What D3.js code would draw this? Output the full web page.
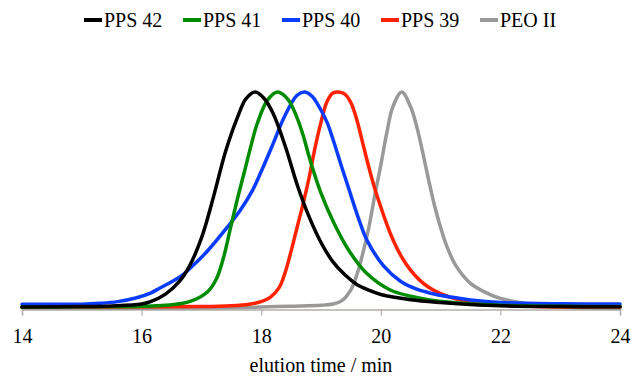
<!DOCTYPE html>
<html>
<head>
<meta charset="utf-8">
<script src="https://cdn.jsdelivr.net/npm/d3@7"></script>
<style>
  html, body { margin: 0; padding: 0; background: #fff; }
  svg { display: block; }
</style>
</head>
<body>
<svg id="chart" width="632" height="377"></svg>
<script>
// Normalised detector response vs elution time (min) for each sample
const seriesNames = ["PPS 42", "PPS 41", "PPS 40", "PPS 39", "PEO II"];
const seriesColors = ["#000000", "#008c00", "#0a3cff", "#ff2200", "#999999"];

const pps42 = [
  [14, 0.0], [15, 0.002], [15.5, 0.005], [16.0, 0.014], [16.15, 0.025], [16.4, 0.06],
  [16.65, 0.125], [16.8, 0.19], [17.0, 0.32], [17.2, 0.51], [17.4, 0.72], [17.6, 0.88],
  [17.75, 0.97], [17.9, 1.0], [18.05, 0.97], [18.2, 0.90], [18.4, 0.75], [18.6, 0.57],
  [18.8, 0.42], [19.0, 0.30], [19.2, 0.21], [19.4, 0.15], [19.6, 0.105], [19.8, 0.078],
  [20.0, 0.058], [20.5, 0.034], [21.0, 0.021], [21.5, 0.012], [22, 0.006], [23, 0.002], [24, 0.001]
];
const pps41 = [
  [14, 0.0], [15, 0.001], [16.0, 0.003], [16.4, 0.008], [16.8, 0.025], [17.1, 0.07],
  [17.25, 0.13], [17.37, 0.23], [17.48, 0.36], [17.6, 0.50], [17.72, 0.63], [17.82, 0.74],
  [17.93, 0.85], [18.1, 0.96], [18.27, 1.0], [18.45, 0.965], [18.6, 0.88], [18.7, 0.80],
  [18.8, 0.70], [18.9, 0.61], [19.0, 0.53], [19.2, 0.40], [19.45, 0.27], [19.75, 0.16],
  [20.15, 0.08], [20.5, 0.05], [20.85, 0.032], [21.5, 0.015], [22, 0.008], [23, 0.003], [24, 0.002]
];
const pps40 = [
  [14, 0.013], [15.0, 0.013], [15.3, 0.017], [15.6, 0.025], [15.9, 0.042], [16.15, 0.065],
  [16.3, 0.087], [16.64, 0.14], [16.81, 0.18], [17.09, 0.257], [17.43, 0.37], [17.65, 0.45],
  [17.85, 0.54], [18.0, 0.63], [18.2, 0.76], [18.38, 0.88], [18.6, 0.985], [18.73, 1.0],
  [18.85, 0.98], [18.95, 0.94], [19.1, 0.86], [19.2, 0.78], [19.33, 0.665], [19.47, 0.545],
  [19.63, 0.41], [19.77, 0.31], [20.05, 0.19], [20.33, 0.12], [20.6, 0.083], [20.85, 0.063],
  [21.2, 0.045], [21.5, 0.033], [22.0, 0.021], [23, 0.015], [24, 0.014]
];
const pps39 = [
  [14, 0.0], [17.0, 0.002], [17.5, 0.006], [17.8, 0.013], [18.0, 0.025], [18.15, 0.045],
  [18.3, 0.09], [18.4, 0.16], [18.5, 0.26], [18.6, 0.37], [18.7, 0.48], [18.8, 0.60],
  [18.9, 0.74], [19.0, 0.86], [19.1, 0.955], [19.2, 0.995], [19.29, 1.0], [19.4, 0.99],
  [19.5, 0.95], [19.6, 0.87], [19.7, 0.76], [19.8, 0.65], [19.9, 0.55], [20.0, 0.465],
  [20.1, 0.385], [20.2, 0.315], [20.35, 0.232], [20.5, 0.17], [20.65, 0.125], [20.8, 0.092],
  [21.0, 0.062], [21.25, 0.038], [21.5, 0.023], [22.0, 0.009], [22.5, 0.003], [23, 0.0], [24, 0.0]
];
const peo2 = [
  [14, -0.005], [17.5, -0.004], [18.0, 0.0], [18.5, 0.004], [19.0, 0.008], [19.2, 0.014],
  [19.35, 0.03], [19.5, 0.08], [19.6, 0.15], [19.7, 0.25], [19.8, 0.37], [19.9, 0.52],
  [20.0, 0.66], [20.1, 0.81], [20.2, 0.93], [20.35, 1.0], [20.5, 0.93], [20.6, 0.84],
  [20.7, 0.72], [20.8, 0.59], [20.9, 0.47], [21.0, 0.37], [21.1, 0.285], [21.25, 0.195],
  [21.5, 0.11], [21.75, 0.068], [22.0, 0.04], [22.5, 0.013], [23.0, 0.0], [23.5, -0.005], [24, -0.007]
];
const seriesData = [pps42, pps41, pps40, pps39, peo2];

const xTicks = [14, 16, 18, 20, 22, 24];
const xLabel = "elution time / min";

const FONT = "Liberation Serif, DejaVu Serif, serif";

const svg = d3.select("#chart");

const x = d3.scaleLinear().domain([14, 24]).range([22, 620]);
const y = d3.scaleLinear().domain([0, 1]).range([307, 92]);
const axisY = 309.5;

// x axis
const xAxis = d3.axisBottom(x)
  .tickValues(xTicks)
  .tickFormat(d3.format("d"))
  .tickSizeInner(6)
  .tickSizeOuter(6)
  .tickPadding(13);

const gx = svg.append("g")
  .attr("transform", `translate(0,${axisY})`)
  .call(xAxis)
  .attr("font-family", FONT)
  .attr("font-size", 20);
gx.select(".domain").attr("stroke", "#b3adab").attr("stroke-width", 1.5);
gx.selectAll(".tick line").attr("stroke", "#b3adab").attr("stroke-width", 1.2);
gx.selectAll(".tick text")
  .attr("font-family", FONT)
  .attr("font-size", 20)
  .attr("fill", "#000");

svg.append("text")
  .attr("x", 321)
  .attr("y", 372)
  .attr("text-anchor", "middle")
  .attr("font-family", FONT)
  .attr("font-size", 20)
  .text(xLabel);

// traces
const line = d3.line()
  .x(d => x(d[0]))
  .y(d => y(d[1]))
  .curve(d3.curveCatmullRom.alpha(0.5));

const drawOrder = [4, 3, 2, 1, 0];
drawOrder.forEach(i => {
  svg.append("path")
    .datum(seriesData[i])
    .attr("fill", "none")
    .attr("stroke", seriesColors[i])
    .attr("stroke-width", 3.5)
    .attr("stroke-linejoin", "round")
    .attr("stroke-linecap", "round")
    .attr("d", line);
});

// legend: evenly spaced entries across the top
const legend = svg.append("g");
seriesNames.forEach((name, i) => {
  const lx = 84 + i * 99;
  legend.append("line")
    .attr("x1", lx).attr("x2", lx + 18)
    .attr("y1", 20).attr("y2", 20)
    .attr("stroke", seriesColors[i])
    .attr("stroke-width", 4);
  legend.append("text")
    .attr("x", lx + 20)
    .attr("y", 27)
    .attr("font-family", FONT)
    .attr("font-size", 20)
    .text(name);
});
</script>
</body>
</html>
